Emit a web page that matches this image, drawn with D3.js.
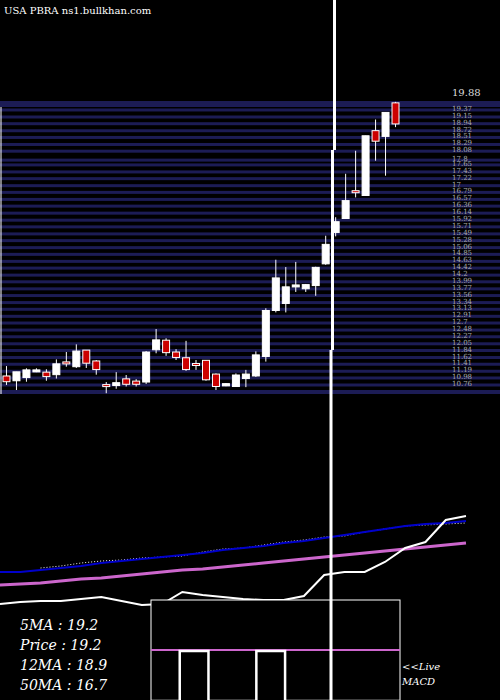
<!DOCTYPE html>
<html><head><meta charset="utf-8">
<script src="https://cdn.jsdelivr.net/npm/d3@7/dist/d3.min.js"></script>
<style>body{margin:0;background:#000}svg{display:block}</style>
</head><body><div id="chart"></div>
<script>
// candles: open, high, low, close
var opens  = [10.98,10.83,10.93,11.16,11.10,11.02,11.42,11.27,11.79,11.45,10.71,10.68,10.89,10.82,10.79,11.80,12.10,11.73,11.55,11.37,11.47,11.04,10.67,10.65,10.90,10.98,11.59,13.03,13.25,13.82,13.71,13.81,14.49,15.47,15.91,16.78,16.63,18.66,18.48,19.53];
var highs  = [11.29,11.11,11.22,11.22,11.19,11.50,11.73,11.97,11.79,11.48,10.79,11.10,11.01,10.88,11.76,12.45,12.16,11.82,12.08,11.48,11.47,11.06,10.76,11.06,11.17,11.75,13.10,14.62,14.39,14.55,13.86,14.40,15.37,15.95,17.31,18.03,18.50,19.01,19.23,19.56];
var lows   = [10.70,10.54,10.80,11.10,10.83,10.90,11.27,11.23,11.23,11.02,10.44,10.58,10.65,10.65,10.73,11.69,11.61,11.48,11.14,11.17,10.83,10.54,10.66,10.65,10.63,10.95,11.43,12.97,12.97,13.61,13.61,13.49,14.46,15.35,15.91,16.57,16.63,17.72,17.25,18.77];
var closes = [10.80,11.11,11.17,11.17,10.96,11.36,11.36,11.76,11.38,11.18,10.65,10.77,10.72,10.72,11.73,12.11,11.71,11.56,11.18,11.32,10.86,10.65,10.74,11.01,11.04,11.64,13.03,14.05,13.77,13.83,13.84,14.38,15.10,15.81,16.47,16.73,18.50,18.33,19.23,18.87];
var priceTicks = [19.37,19.15,18.94,18.72,18.51,18.29,18.08,17.8,17.65,17.43,17.22,17,16.79,16.57,16.36,16.14,15.92,15.71,15.49,15.28,15.06,14.85,14.63,14.42,14.2,13.99,13.77,13.56,13.34,13.13,12.91,12.7,12.48,12.27,12.05,11.84,11.62,11.41,11.19,10.98,10.76];
// lower panel lines (arbitrary units)
var maBlue   = [38,38,40,42,44,47,49,51,53,55,57,60,62,64,67,69,72,75,78,81,84,86,87,89];
var maPink   = [25,26,27,29,31,32,34,36,38,40,41,43,45,47,49,51,53,55,57,59,61,63,65,67];
var maDotted = [null,null,42,44,47,49,50,52,53,54,58,61,62,65,68,70,73,74,78,81,84,85,86,87];
var priceLine= [6,8,9,9,11,13,9,5,6,18,15,13,11,10,10,14,35,38,38,48,62,68,90,94];
var macdHigh = [0,0,0,1,1,1,0,0,0,0,0,1,1,1,0,0,0,0,0,0,0,0,0,0,0,0];
var labels = ["5MA : 19.2","Price   : 19.2","12MA : 18.9","50MA : 16.7"];

var W = 500, H = 700;
var svg = d3.select("#chart").append("svg").attr("width",W).attr("height",H).style("background","#000");

var y = d3.scaleLinear().domain([10.76,19.15]).range([383,115]);
var x = d3.scaleBand().domain(d3.range(opens.length)).range([0,402]).padding(0.3);

// grid bands
svg.append("rect").attr("x",0).attr("y",101).attr("width",W).attr("height",6).attr("fill","#1c1c55");
priceTicks.forEach(function(t){
	svg.append("rect").attr("x",0).attr("y",y(t)+0.5).attr("width",W).attr("height",3).attr("fill","#1c1c55");
});
svg.append("rect").attr("x",0).attr("y",390).attr("width",W).attr("height",4).attr("fill","#1c1c55");
svg.append("line").attr("x1",1).attr("x2",1).attr("y1",107).attr("y2",394).attr("stroke","#fff").attr("stroke-width",1);

// tick labels
svg.append("text").attr("x",452).attr("y",96).attr("fill","#ddd").attr("font-family","DejaVu Serif").attr("font-size",10).text("19.88");
priceTicks.forEach(function(t){
	svg.append("text").attr("x",452).attr("y",y(t)+3).attr("fill","#aaa")
		.attr("font-family","DejaVu Serif").attr("font-size",7).text(t);
});

// candles
var g = svg.append("g");
opens.forEach(function(o,i){
	var c = closes[i], up = c >= o, cx = x(i)+x.bandwidth()/2;
	g.append("line").attr("x1",cx).attr("x2",cx).attr("y1",y(highs[i])).attr("y2",y(lows[i])).attr("stroke","#fff").attr("stroke-width",1);
	var top = y(Math.max(o,c)), h = Math.max(2,Math.abs(y(o)-y(c)));
	g.append("rect").attr("x",x(i)).attr("y",top).attr("width",x.bandwidth()).attr("height",h)
		.attr("fill",up?"#fff":"#cc0000").attr("stroke","#fff").attr("stroke-width",1);
});

// header
svg.append("text").attr("x",4).attr("y",14).attr("fill","#fff").attr("font-family","DejaVu Serif").attr("font-size",10).text("USA PBRA ns1.bullkhan.com");

// lower panel
var lx = d3.scaleLinear().domain([0,maBlue.length-1]).range([0,466]);
var ly = d3.scaleLinear().domain([0,110]).range([610,500]);
var line = d3.line().defined(function(d){return d!==null;}).x(function(d,i){return lx(i);}).y(function(d){return ly(d);});
svg.append("path").attr("d",line(maPink)).attr("fill","none").attr("stroke","#cc66cc").attr("stroke-width",3);
svg.append("path").attr("d",line(maDotted)).attr("fill","none").attr("stroke","#fff").attr("stroke-width",1).attr("stroke-dasharray","1,2");
svg.append("path").attr("d",line(maBlue)).attr("fill","none").attr("stroke","#0000cc").attr("stroke-width",2);
svg.append("path").attr("d",line(priceLine)).attr("fill","none").attr("stroke","#fff").attr("stroke-width",2);

// macd box
svg.append("rect").attr("x",151).attr("y",600).attr("width",249).attr("height",102).attr("fill","#000").attr("stroke","#fff").attr("stroke-width",1);
svg.append("line").attr("x1",151).attr("x2",400).attr("y1",650).attr("y2",650).attr("stroke","#cc66cc").attr("stroke-width",2);
var mx = d3.scaleLinear().domain([0,macdHigh.length]).range([151,400]);
var my = d3.scaleLinear().domain([0,1]).range([701,651]);
var step = d3.line().curve(d3.curveStepAfter).x(function(d,i){return mx(i);}).y(function(d){return my(d);});
svg.append("path").attr("d",step(macdHigh.concat([0]))).attr("fill","none").attr("stroke","#fff").attr("stroke-width",2.5);

// big vertical line
[[0,150,334.5],[150,350,332.5],[350,700,331]].forEach(function(s){
	svg.append("line").attr("x1",s[2]).attr("x2",s[2]).attr("y1",s[0]).attr("y2",s[1]).attr("stroke","#fff").attr("stroke-width",3);
});

labels.forEach(function(t,i){
	svg.append("text").attr("x",20).attr("y",630+i*20).attr("fill","#fff").attr("font-family","DejaVu Serif")
		.attr("font-style","italic").attr("font-size",14).text(t);
});
svg.append("text").attr("x",402).attr("y",670).attr("fill","#fff").attr("font-family","DejaVu Serif").attr("font-style","italic").attr("font-size",10).text("<<Live");
svg.append("text").attr("x",402).attr("y",685).attr("fill","#fff").attr("font-family","DejaVu Serif").attr("font-style","italic").attr("font-size",10).text("MACD");
</script></body></html>
